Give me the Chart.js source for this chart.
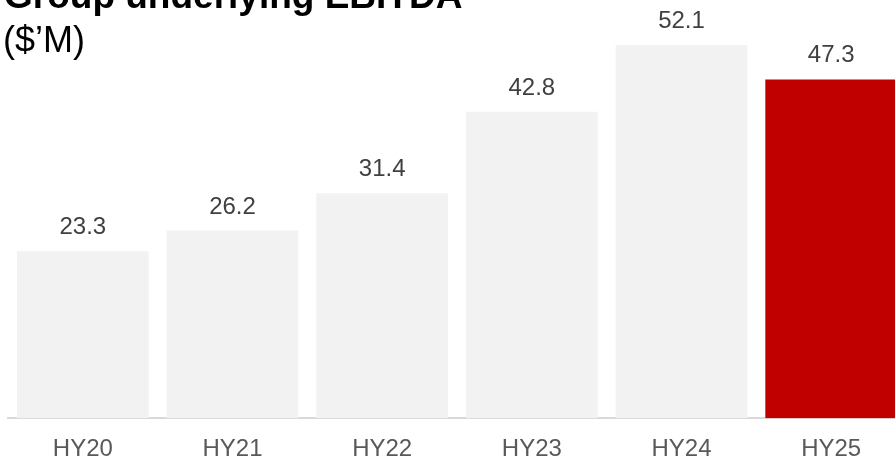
<!DOCTYPE html>
<html>
<head>
<meta charset="utf-8">
<script src="https://cdn.jsdelivr.net/npm/chart.js"></script>
<style>
  html, body { margin: 0; padding: 0; background: #fff; overflow: hidden; }
  #wrap { position: relative; width: 906px; height: 481px; }
</style>
</head>
<body>
<div id="wrap"><canvas id="ebitdaChart"></canvas></div>
<script>
const periods = ['HY20', 'HY21', 'HY22', 'HY23', 'HY24', 'HY25'];
const ebitda = [23.3, 26.2, 31.4, 42.8, 52.1, 47.3];
const barColors = ['#f2f2f2', '#f2f2f2', '#f2f2f2', '#f2f2f2', '#f2f2f2', '#c00000'];
const titleText = 'Group underlying EBITDA';
const unitText = '($\u2019M)';

// value labels above bars + the (cropped) heading
const extras = {
    id: 'extras',
    afterDatasetsDraw(chart) {
        const ctx = chart.ctx;
        ctx.save();
        ctx.fillStyle = '#404040';
        ctx.font = '24px "Liberation Sans", Arial, sans-serif';
        ctx.textAlign = 'center';
        ctx.textBaseline = 'alphabetic';
        chart.getDatasetMeta(0).data.forEach((bar, i) => {
            ctx.fillText(ebitda[i].toFixed(1), bar.x, bar.y - 17);
        });

        ctx.fillStyle = '#000';
        ctx.textAlign = 'left';
        ctx.font = 'bold 37px "Liberation Sans", Arial, sans-serif';
        ctx.fillText(titleText, 4, 8);
        ctx.font = '36px "Liberation Sans", Arial, sans-serif';
        ctx.fillText(unitText, 3, 52);
        ctx.restore();
    }
};

const ctx = document.getElementById('ebitdaChart').getContext('2d');
new Chart(ctx, {
    type: 'bar',
    data: {
        labels: periods,
        datasets: [{
            data: ebitda,
            backgroundColor: barColors,
            borderWidth: 0,
            barPercentage: 0.88,
            categoryPercentage: 1.0
        }]
    },
    options: {
        responsive: true,
        maintainAspectRatio: false,
        animation: false,
        layout: { padding: { left: 8, right: 0, top: 0, bottom: 0 } },
        plugins: {
            legend: { display: false },
            tooltip: { enabled: false }
        },
        scales: {
            x: {
                grid: { display: false, drawTicks: false },
                border: { display: true, color: '#d9d9d9', width: 2 },
                ticks: {
                    color: '#595959',
                    padding: 17,
                    font: { family: '"Liberation Sans", Arial, sans-serif', size: 24 }
                }
            },
            y: {
                display: false,
                min: 0,
                max: 58.4
            }
        }
    },
    plugins: [extras]
});
</script>
</body>
</html>
